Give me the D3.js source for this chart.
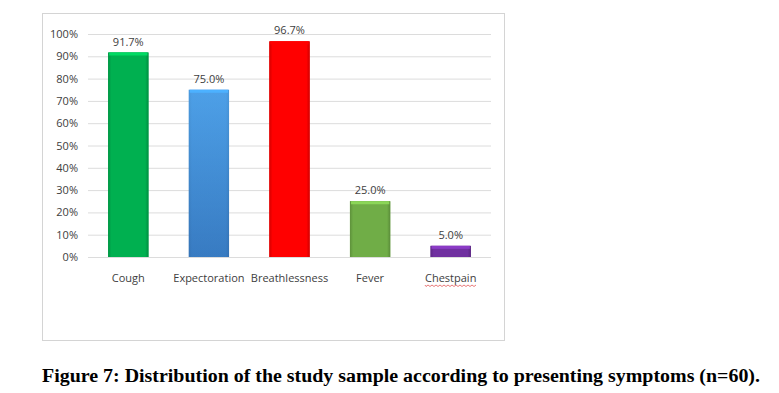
<!DOCTYPE html>
<html>
<head>
<meta charset="utf-8">
<script src="https://cdn.jsdelivr.net/npm/d3@7"></script>
<style>
  body { margin: 0; background: #fff; }
  svg text { font-family: "Open Sans", "DejaVu Sans", sans-serif; }
</style>
</head>
<body>
<div id="wrapper"></div>
<script>
// data
const symptoms = ["Cough", "Expectoration", "Breathlessness", "Fever", "Chestpain"]
const percents = [91.7, 75.0, 96.7, 25.0, 5.0]
const barColors = ["#00b050", "#3d8fdb", "#ff0000", "#70ad47", "#7030a0"]
const yTicks = [0, 10, 20, 30, 40, 50, 60, 70, 80, 90, 100]
const caption = "Figure 7: Distribution of the study sample according to presenting symptoms (n=60)."

const dataset = symptoms.map((s, i) => ({ name: s, value: percents[i], color: barColors[i] }))

const dimensions = {
  width: 779,
  height: 393,
  frame: { x: 42, y: 13, w: 462, h: 327 },
  margin: { top: 34, left: 88, right: 288, bottom: 136 },
}
dimensions.boundedWidth = dimensions.width - dimensions.margin.left - dimensions.margin.right
dimensions.boundedHeight = dimensions.height - dimensions.margin.top - dimensions.margin.bottom

const svg = d3.select("#wrapper").append("svg")
  .attr("width", dimensions.width)
  .attr("height", dimensions.height)

// chart frame
svg.append("rect")
  .attr("x", dimensions.frame.x + 0.5)
  .attr("y", dimensions.frame.y + 0.5)
  .attr("width", dimensions.frame.w)
  .attr("height", dimensions.frame.h)
  .attr("fill", "#fff")
  .attr("stroke", "#d4d4d4")

const bounds = svg.append("g")
  .attr("transform", `translate(${dimensions.margin.left},${dimensions.margin.top})`)

const xScale = d3.scaleBand()
  .domain(symptoms)
  .range([0, dimensions.boundedWidth])
  .paddingInner(0.5)
  .paddingOuter(0.25)

const yScale = d3.scaleLinear()
  .domain([0, 100])
  .range([dimensions.boundedHeight, 0])

// gradients to fake the bevelled bars
const defs = svg.append("defs")
dataset.forEach((d, i) => {
  const c = d3.color(d.color)
  const g = defs.append("linearGradient").attr("id", "side" + i)
    .attr("x1", 0).attr("x2", 1).attr("y1", 0).attr("y2", 0)
  g.append("stop").attr("offset", "0%").attr("stop-color", c.darker(0.5))
  g.append("stop").attr("offset", "8%").attr("stop-color", c)
  g.append("stop").attr("offset", "92%").attr("stop-color", c)
  g.append("stop").attr("offset", "100%").attr("stop-color", c.darker(0.6))
})
// expectoration bar goes darker towards the bottom
const vg = defs.append("linearGradient").attr("id", "vert1")
  .attr("x1", 0).attr("x2", 0).attr("y1", 0).attr("y2", 1)
vg.append("stop").attr("offset", "0%").attr("stop-color", "#56a9ee")
vg.append("stop").attr("offset", "100%").attr("stop-color", "#3570b4")

// grid
const yAxis = bounds.append("g")
  .call(d3.axisLeft(yScale).tickValues(yTicks).tickSize(-dimensions.boundedWidth).tickFormat(d => d + "%"))
yAxis.select(".domain").remove()
yAxis.selectAll(".tick line").attr("stroke", "#dcdcdc").attr("stroke-width", 1)
yAxis.selectAll(".tick text")
  .attr("x", -10)
  .attr("fill", "#404040")
  .style("font-size", "11px")

const bars = bounds.selectAll(".bar")
  .data(dataset)
  .join("g")
  .attr("class", "bar")

bars.append("rect")
  .attr("x", d => xScale(d.name))
  .attr("y", d => yScale(d.value))
  .attr("width", xScale.bandwidth())
  .attr("height", d => yScale(0) - yScale(d.value))
  .attr("fill", (d, i) => i === 1 ? "url(#vert1)" : d.color)

bars.append("rect")
  .attr("x", d => xScale(d.name))
  .attr("y", d => yScale(d.value))
  .attr("width", xScale.bandwidth())
  .attr("height", d => yScale(0) - yScale(d.value))
  .attr("fill", (d, i) => "url(#side" + i + ")")
  .attr("opacity", (d, i) => i === 1 ? 0.35 : 1)

// lighter top bevel
bars.append("rect")
  .attr("x", d => xScale(d.name) + 1)
  .attr("y", d => yScale(d.value))
  .attr("width", xScale.bandwidth() - 2)
  .attr("height", 3)
  .attr("fill", d => d3.color(d.color).brighter(0.6))

bars.append("text")
  .attr("x", d => xScale(d.name) + xScale.bandwidth() / 2)
  .attr("y", d => yScale(d.value) - 7)
  .attr("text-anchor", "middle")
  .attr("fill", "#404040")
  .style("font-size", "11px")
  .text(d => d.value.toFixed(1) + "%")

const catLabels = bounds.selectAll(".cat")
  .data(dataset)
  .join("text")
  .attr("class", "cat")
  .attr("x", d => xScale(d.name) + xScale.bandwidth() / 2)
  .attr("y", dimensions.boundedHeight + 25)
  .attr("text-anchor", "middle")
  .attr("fill", "#404040")
  .style("font-size", "11px")
  .text(d => d.name)

// spell-check squiggle under "Chestpain"
catLabels.filter(d => d.name === "Chestpain").each(function () {
  const b = this.getBBox()
  let p = `M${b.x},${b.y + b.height}`
  for (let x = b.x; x < b.x + b.width; x += 2) {
    p += ` L${x + 1},${b.y + b.height + ((x - b.x) / 2 % 2 === 0 ? 1.5 : 0)}`
  }
  bounds.append("path").attr("d", p).attr("fill", "none")
    .attr("stroke", "#e04040").attr("stroke-width", 0.7)
})

svg.append("text")
  .attr("x", 42)
  .attr("y", 382)
  .attr("fill", "#000")
  .style("font-family", "'Liberation Serif', serif")
  .style("font-weight", "bold")
  .style("font-size", "18px")
  .attr("textLength", 718)
  .attr("lengthAdjust", "spacingAndGlyphs")
  .text(caption)
</script>
</body>
</html>
